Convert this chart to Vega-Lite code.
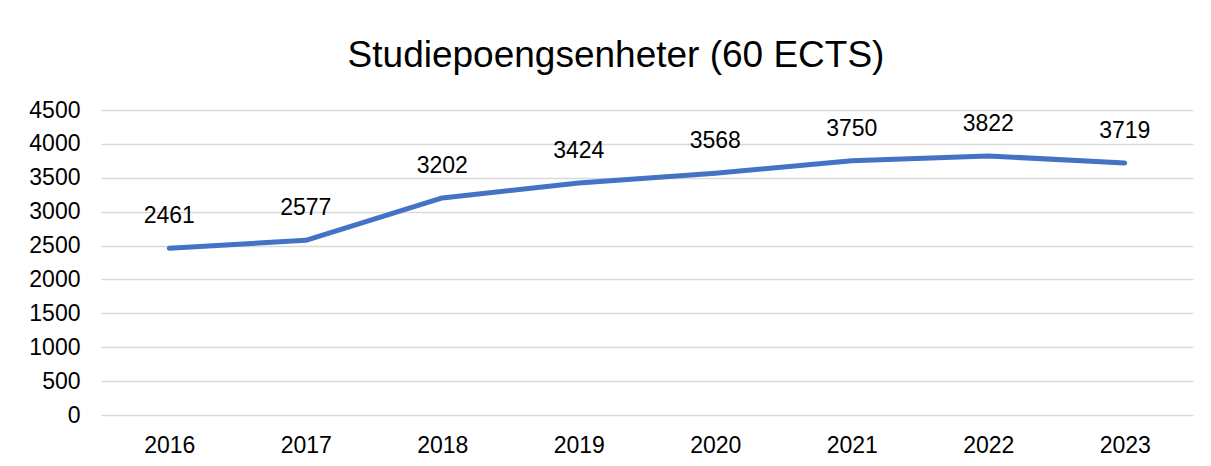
{
  "$schema": "https://vega.github.io/schema/vega-lite/v6.json",
  "autosize": {"type": "none"},
  "width": 1092,
  "height": 305,
  "padding": {"left": 101, "top": 110, "right": 18, "bottom": 51},
  "background": "#ffffff",
  "title": {
    "text": "Studiepoengsenheter (60 ECTS)",
    "anchor": "middle",
    "dx": -31,
    "fontSize": 37,
    "font": "Liberation Sans",
    "fontWeight": "normal",
    "color": "#000000",
    "offset": 24
  },
  "data": {
    "values": [
      {"year": "2016", "value": 2461},
      {"year": "2017", "value": 2577},
      {"year": "2018", "value": 3202},
      {"year": "2019", "value": 3424},
      {"year": "2020", "value": 3568},
      {"year": "2021", "value": 3750},
      {"year": "2022", "value": 3822},
      {"year": "2023", "value": 3719}
    ]
  },
  "encoding": {
    "x": {
      "field": "year",
      "type": "ordinal",
      "scale": {"padding": 0.5},
      "axis": {
        "title": null,
        "labelAngle": 0,
        "domain": false,
        "ticks": false,
        "grid": false,
        "labelPadding": 19,
        "labelFontSize": 23,
        "labelFont": "Liberation Sans",
        "labelColor": "#000000"
      }
    },
    "y": {
      "field": "value",
      "type": "quantitative",
      "scale": {"domain": [0, 4500], "nice": false},
      "axis": {
        "title": null,
        "format": "d",
        "values": [0, 500, 1000, 1500, 2000, 2500, 3000, 3500, 4000, 4500],
        "domain": false,
        "ticks": false,
        "grid": true,
        "gridColor": "#d9d9d9",
        "gridWidth": 1.5,
        "labelPadding": 21,
        "labelFontSize": 23,
        "labelFont": "Liberation Sans",
        "labelColor": "#000000"
      }
    }
  },
  "layer": [
    {
      "mark": {"type": "line", "color": "#4472c4", "strokeWidth": 5, "strokeCap": "round", "strokeJoin": "round"}
    },
    {
      "mark": {"type": "text", "baseline": "alphabetic", "dy": -25, "fontSize": 23, "font": "Liberation Sans", "color": "#000000"},
      "encoding": {"text": {"field": "value", "type": "quantitative", "format": "d"}}
    }
  ],
  "config": {"view": {"stroke": null}}
}
